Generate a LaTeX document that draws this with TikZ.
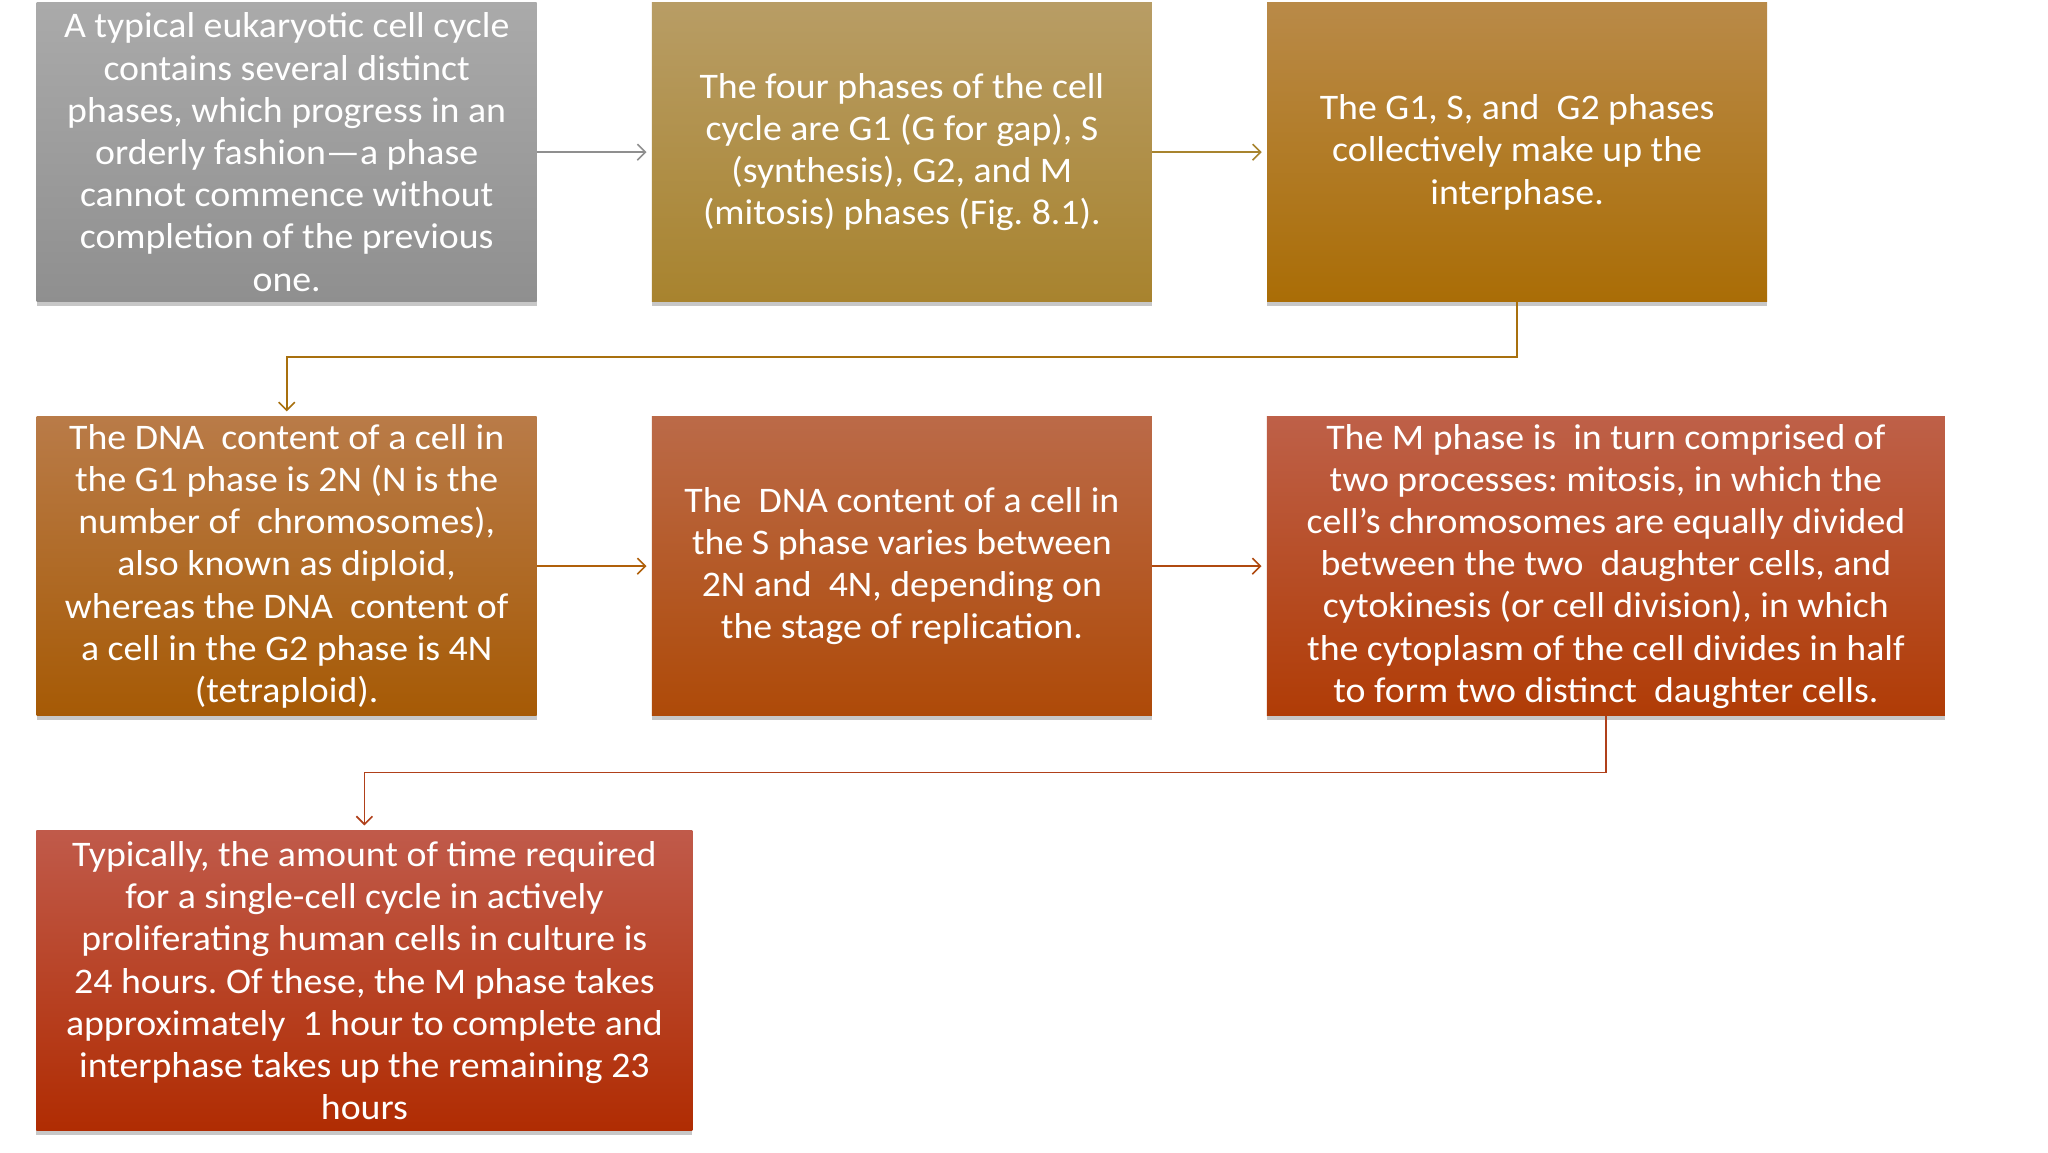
\documentclass[tikz,border=0pt]{standalone}
\usepackage{fontspec}
\setmainfont{Carlito}[FakeStretch=1.05]
\usetikzlibrary{arrows.meta,shadows}
\definecolor{c1t}{HTML}{AAAAAA}\definecolor{c1b}{HTML}{8F8F8F}
\definecolor{c2t}{HTML}{B89D65}\definecolor{c2b}{HTML}{A8832E}
\definecolor{c3t}{HTML}{B98A48}\definecolor{c3b}{HTML}{AA6D06}
\definecolor{c4t}{HTML}{B97B48}\definecolor{c4b}{HTML}{A65A05}
\definecolor{c5t}{HTML}{BB6A48}\definecolor{c5b}{HTML}{AE4A08}
\definecolor{c6t}{HTML}{BE6048}\definecolor{c6b}{HTML}{B03C06}
\definecolor{c7t}{HTML}{C05A4A}\definecolor{c7b}{HTML}{B02C02}
\definecolor{a1}{HTML}{8F8F8F}\definecolor{a2}{HTML}{A8842E}
\definecolor{a3}{HTML}{A8700E}\definecolor{a4}{HTML}{B0600A}
\definecolor{a5}{HTML}{B04A10}\definecolor{a6}{HTML}{B0401A}
\tikzset{
  box/.style={draw=none, inner sep=0pt, align=center, text=white,
    font=\fontsize{18}{21.1}\selectfont\frenchspacing,
    drop shadow={shadow xshift=0pt, shadow yshift=-2pt, opacity=0.22, fill=black}},
  link/.style={line width=0.8pt, -{Straight Barb[length=4pt,width=8pt,line width=0.8pt]}, shorten >=2.5pt},
}
\begin{document}
\begin{tikzpicture}[x=0.5pt,y=-0.5pt]
\useasboundingbox[fill=white] (0,0) rectangle (2048,1152);
\node[box, minimum width=250pt, minimum height=149.5pt, top color=c1t, bottom color=c1b] (b1) at (286.7,152.2)
{A typical eukaryotic cell cycle\\contains several distinct\\phases, which progress in an\\orderly fashion—a phase\\cannot commence without\\completion of the previous\\one.};
\node[box, minimum width=250pt, minimum height=149.5pt, top color=c2t, bottom color=c2b] (b2) at (901.9,152.2)
{The four phases of the cell\\cycle are G1 (G for gap), S\\(synthesis), G2, and M\\(mitosis) phases (Fig. 8.1).};
\node[box, minimum width=250pt, minimum height=149.5pt, top color=c3t, bottom color=c3b] (b3) at (1517.1,152.2)
{The G1, S, and~ G2 phases\\collectively make up the\\interphase.};
\node[box, minimum width=250pt, minimum height=149.5pt, top color=c4t, bottom color=c4b] (b4) at (286.7,566.2)
{The DNA~ content of a cell in\\the G1 phase is 2N (N is the\\number of~ chromosomes),\\also known as diploid,\\whereas the DNA~ content of\\a cell in the G2 phase is 4N\\(tetraploid).};
\node[box, minimum width=250pt, minimum height=149.5pt, top color=c5t, bottom color=c5b] (b5) at (901.9,566.2)
{The~ DNA content of a cell in\\the S phase varies between\\2N and~ 4N, depending on\\the stage of replication.};
\node[box, minimum width=339pt, minimum height=149.5pt, top color=c6t, bottom color=c6b] (b6) at (1605.9,566.2)
{The M phase is~ in turn comprised of\\two processes: mitosis, in which the\\cell’s chromosomes are equally divided\\between the two~ daughter cells, and\\cytokinesis (or cell division), in which\\the cytoplasm of the cell divides in half\\to form two distinct~ daughter cells.};
\node[box, minimum width=328pt, minimum height=150pt, top color=c7t, bottom color=c7b] (b7) at (364.4,980.8)
{Typically, the amount of time required\\for a single-cell cycle in actively\\proliferating human cells in culture is\\24 hours. Of these, the M phase takes\\approximately~ 1 hour to complete and\\interphase takes up the remaining 23\\hours};
\draw[link, a1] (b1.east) -- (b2.west);
\draw[link, a2] (b2.east) -- (b3.west);
\draw[link, a3] (b3.south) -- ++(0,55) -| (b4.north);
\draw[link, a4] (b4.east) -- (b5.west);
\draw[link, a5] (b5.east) -- (b6.west);
\draw[link, a6] (b6.south) -- ++(0,56.3) -| (b7.north);
\end{tikzpicture}
\end{document}
